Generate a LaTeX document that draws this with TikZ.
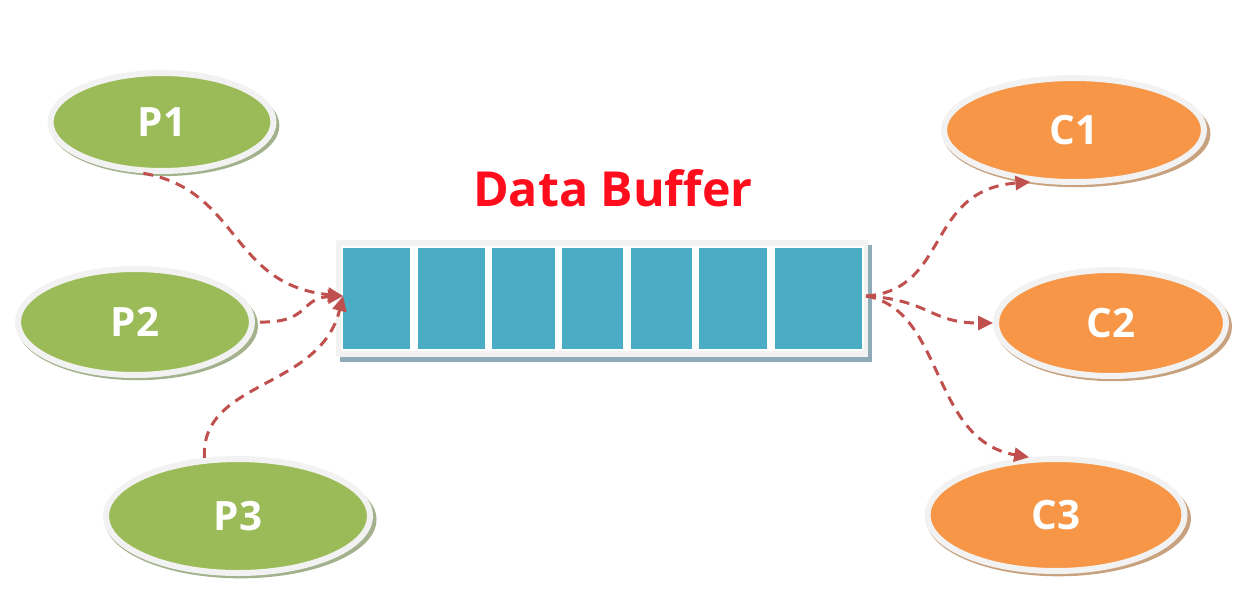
\documentclass[tikz,border=0pt]{standalone}
\usepackage{fontspec}
\setmainfont{Open Sans}
\usetikzlibrary{positioning,shapes.geometric,shadows,arrows.meta}
\definecolor{pgreen}{HTML}{9BBB59}
\definecolor{corange}{HTML}{F79646}
\definecolor{cellblue}{HTML}{4BACC6}
\definecolor{rim}{HTML}{F2F2F2}
\definecolor{pshade}{HTML}{A3B18C}
\definecolor{cshade}{HTML}{C8A27F}
\definecolor{bshade}{HTML}{8FABB7}
\definecolor{flow}{HTML}{C0504D}
\definecolor{titlered}{HTML}{FF0D1D}

\begin{document}
\begin{tikzpicture}[x=0.02cm, y=-0.02cm, >={Triangle[length=0.3cm,width=0.28cm]},
	proc/.style={ellipse, fill=#1, draw=rim, line width=0.12cm, text=white,
		font=\bfseries\fontsize{23}{23}\selectfont, inner sep=0pt},
	producer/.style={proc=pgreen, drop shadow={shadow xshift=0.05cm, shadow yshift=-0.07cm,
		shadow scale=1.03, fill=pshade, opacity=1}},
	consumer/.style={proc=corange, drop shadow={shadow xshift=0.05cm, shadow yshift=-0.07cm,
		shadow scale=1.03, fill=cshade, opacity=1}},
	flowline/.style={->, flow, line width=0.06cm, dash pattern=on 0.2cm off 0.14cm}]
\useasboundingbox (0,0) rectangle (1246,610);

% producers
\node [producer, minimum width=4.46cm, minimum height=1.96cm] (P1) at (162,122) {P1};
\node [producer, minimum width=4.68cm, minimum height=2.12cm] (P2) at (135,322) {P2};
\node [producer, minimum width=5.28cm, minimum height=2.28cm] (P3) at (238,516) {P3};

% consumers
\node [consumer, minimum width=5.2cm, minimum height=2.08cm] (C1) at (1074,130) {C1};
\node [consumer, minimum width=4.6cm, minimum height=2.12cm] (C2) at (1111,323) {C2};
\node [consumer, minimum width=5.14cm, minimum height=2.24cm] (C3) at (1056,515) {C3};

% buffer
\node [fill=rim, minimum width=10.64cm, minimum height=2.34cm, inner sep=0pt,
	drop shadow={shadow xshift=0.08cm, shadow yshift=-0.1cm, fill=bshade, opacity=1}]
	(buffer) at (602,298.5) {};
\fill [white] (341,246) rectangle (864,351);
\foreach \l/\r in {343/410, 418/485, 492/555, 562/623, 631/692, 699/767, 775/862}
	\fill [cellblue] (\l,248) rectangle (\r,349);
\node [font=\bfseries\fontsize{27.5}{27.5}\selectfont, text=titlered] (title) at (613,188) {Data Buffer};

\coordinate (bufin) at (343,296);
\coordinate (bufout) at (866,296);

% flows
\draw [flowline] (P1.250) .. controls (240,190) and (230,285) .. (bufin);
\draw [flowline] ([xshift=0.1cm]P2.east) .. controls (310,323) and (300,298) .. (bufin);
\draw [flowline] (P3.120) .. controls (200,380) and (320,390) .. (bufin);

\draw [flowline] (bufout) .. controls (950,290) and (925,190) .. (C1.230);
\draw [flowline] (bufout) .. controls (930,300) and (930,323) .. (C2.west);
\draw [flowline] (bufout) .. controls (945,310) and (930,440) .. (C3.115);

\end{tikzpicture}
\end{document}
